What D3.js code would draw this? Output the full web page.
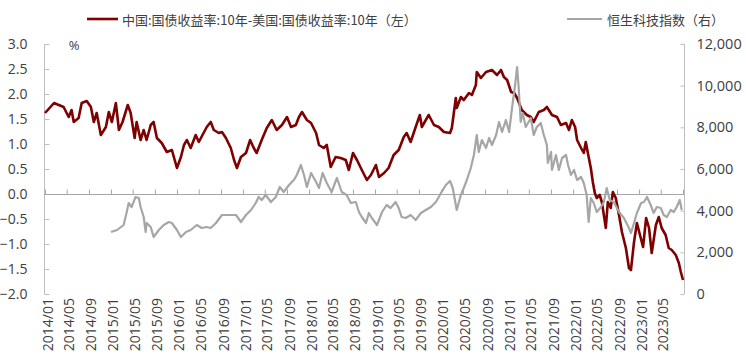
<!DOCTYPE html>
<html><head><meta charset="utf-8">
<script src="https://cdn.jsdelivr.net/npm/d3@7"></script>
<style>body{margin:0;background:#fff}svg{display:block}</style>
</head><body><div id="c"></div>
<script>
const spreadLabel = "中国:国债收益率:10年-美国:国债收益率:10年（左）";
const hstechLabel = "恒生科技指数（右）";
const leftTicks = [-2.0,-1.5,-1.0,-0.5,0.0,0.5,1.0,1.5,2.0,2.5,3.0];
const rightTicks = [0,2000,4000,6000,8000,10000,12000];
const xTickLabels = ["2014/01","2014/05","2014/09","2015/01","2015/05","2015/09","2016/01","2016/05","2016/09","2017/01","2017/05","2017/09","2018/01","2018/05","2018/09","2019/01","2019/05","2019/09","2020/01","2020/05","2020/09","2021/01","2021/05","2021/09","2022/01","2022/05","2022/09","2023/01","2023/05"];

const spreadDates = ["2014-01-01","2014-02-20","2014-04-14","2014-05-12","2014-05-28","2014-06-09","2014-07-06","2014-07-23","2014-08-20","2014-09-12","2014-09-28","2014-10-14","2014-11-06","2014-12-04","2014-12-20","2015-01-06","2015-01-28","2015-02-14","2015-03-06","2015-04-04","2015-04-20","2015-05-12","2015-05-23","2015-06-14","2015-07-01","2015-07-17","2015-08-09","2015-08-25","2015-09-12","2015-10-09","2015-11-06","2015-12-04","2016-01-01","2016-01-23","2016-02-09","2016-02-25","2016-03-17","2016-04-14","2016-05-01","2016-06-14","2016-07-06","2016-07-23","2016-08-20","2016-09-06","2016-09-28","2016-10-25","2016-11-12","2016-11-28","2016-12-20","2017-01-17","2017-02-09","2017-03-01","2017-03-17","2017-04-14","2017-05-12","2017-06-09","2017-07-06","2017-08-04","2017-09-01","2017-09-23","2017-10-20","2017-11-06","2017-11-23","2017-12-20","2018-01-12","2018-02-09","2018-02-25","2018-03-23","2018-04-09","2018-05-01","2018-05-28","2018-06-25","2018-07-23","2018-08-09","2018-09-01","2018-09-23","2018-10-20","2018-11-17","2018-12-09","2019-01-06","2019-01-23","2019-02-20","2019-03-17","2019-04-14","2019-05-12","2019-06-09","2019-06-25","2019-07-17","2019-08-14","2019-09-06","2019-09-17","2019-10-09","2019-10-25","2019-11-23","2019-12-20","2020-01-17","2020-02-20","2020-03-01","2020-03-23","2020-03-28","2020-04-20","2020-05-06","2020-06-04","2020-06-20","2020-07-12","2020-07-17","2020-08-09","2020-09-06","2020-10-09","2020-11-06","2020-11-28","2020-12-14","2021-01-01","2021-01-23","2021-02-09","2021-02-25","2021-03-23","2021-04-20","2021-05-12","2021-05-28","2021-06-25","2021-07-23","2021-08-09","2021-09-06","2021-10-04","2021-10-25","2021-11-23","2021-12-09","2021-12-25","2022-01-12","2022-01-23","2022-02-14","2022-03-01","2022-03-12","2022-03-28","2022-04-09","2022-04-20","2022-05-01","2022-05-12","2022-05-28","2022-06-09","2022-07-01","2022-07-12","2022-07-28","2022-08-09","2022-08-25","2022-09-12","2022-09-28","2022-10-20","2022-11-06","2022-11-17","2022-12-04","2022-12-20","2023-01-06","2023-01-23","2023-02-09","2023-02-25","2023-03-12","2023-04-04","2023-04-20","2023-05-06","2023-05-28","2023-06-14","2023-07-01","2023-07-23","2023-08-09","2023-08-20","2023-09-01"];
const spreadValues = [1.62,1.82,1.74,1.54,1.68,1.44,1.52,1.82,1.86,1.74,1.44,1.62,1.18,1.34,1.64,1.44,1.82,1.28,1.44,1.78,1.62,1.12,1.44,1.08,1.28,1.08,1.38,1.44,1.12,1.02,0.84,0.88,0.52,0.74,0.98,1.08,0.92,1.18,1.04,1.34,1.44,1.28,1.22,1.24,1.12,0.92,0.68,0.52,0.74,0.82,1.08,0.92,0.82,1.08,1.32,1.48,1.28,1.38,1.54,1.34,1.38,1.54,1.64,1.48,1.42,1.22,0.98,0.92,0.98,0.54,0.74,0.72,0.68,0.48,0.82,0.68,0.48,0.28,0.38,0.58,0.34,0.42,0.52,0.78,0.88,1.14,1.22,1.04,1.34,1.58,1.34,1.48,1.58,1.38,1.34,1.24,1.22,1.32,1.92,1.72,1.94,1.88,2.02,1.98,2.18,2.44,2.32,2.44,2.48,2.38,2.48,2.34,2.28,2.04,2.02,1.92,1.68,1.58,1.54,1.44,1.64,1.68,1.74,1.58,1.54,1.38,1.42,1.28,1.48,1.34,1.08,0.92,0.82,1.04,0.74,0.52,0.24,0.02,-0.08,-0.02,-0.16,-0.68,-0.16,-0.28,0.04,-0.08,-0.42,-0.76,-1.08,-1.48,-1.52,-0.96,-0.58,-0.82,-1.06,-0.48,-0.68,-1.18,-0.62,-0.46,-0.68,-0.82,-1.08,-1.12,-1.22,-1.38,-1.56,-1.72];

const hstechDates = ["2015-01-01","2015-02-04","2015-03-12","2015-03-28","2015-04-09","2015-04-25","2015-05-17","2015-06-04","2015-06-14","2015-07-01","2015-07-12","2015-07-17","2015-08-09","2015-08-25","2015-09-23","2015-10-20","2015-11-17","2015-12-04","2016-01-01","2016-01-23","2016-02-20","2016-03-17","2016-04-20","2016-05-17","2016-06-14","2016-07-06","2016-08-04","2016-09-06","2016-10-14","2016-11-23","2016-12-20","2017-01-17","2017-02-14","2017-03-12","2017-03-28","2017-04-14","2017-05-06","2017-06-04","2017-07-01","2017-07-23","2017-08-14","2017-09-12","2017-10-09","2017-10-25","2017-11-17","2017-12-04","2017-12-20","2018-01-12","2018-02-09","2018-02-25","2018-03-17","2018-04-09","2018-05-06","2018-06-04","2018-07-01","2018-07-28","2018-08-20","2018-09-17","2018-10-04","2018-10-20","2018-11-12","2018-11-28","2018-12-14","2019-01-12","2019-02-09","2019-03-06","2019-03-28","2019-04-25","2019-05-12","2019-05-28","2019-06-20","2019-07-17","2019-08-14","2019-09-12","2019-10-09","2019-11-06","2019-12-04","2020-01-01","2020-01-28","2020-02-20","2020-03-06","2020-03-28","2020-04-20","2020-05-06","2020-05-23","2020-06-14","2020-07-01","2020-07-17","2020-07-28","2020-08-14","2020-09-06","2020-09-23","2020-10-09","2020-11-01","2020-11-17","2020-12-04","2020-12-25","2021-01-12","2021-01-28","2021-02-14","2021-02-25","2021-03-06","2021-03-17","2021-03-28","2021-04-14","2021-05-12","2021-05-28","2021-06-14","2021-07-06","2021-07-23","2021-08-09","2021-08-14","2021-09-01","2021-09-06","2021-09-28","2021-10-14","2021-11-01","2021-11-23","2021-12-04","2021-12-20","2022-01-06","2022-01-23","2022-02-14","2022-03-01","2022-03-17","2022-03-28","2022-04-09","2022-04-25","2022-05-12","2022-06-04","2022-06-20","2022-07-06","2022-07-23","2022-08-14","2022-09-12","2022-10-09","2022-11-06","2022-11-17","2022-12-04","2022-12-20","2023-01-12","2023-01-28","2023-02-14","2023-03-06","2023-03-23","2023-04-09","2023-05-01","2023-05-17","2023-06-04","2023-06-25","2023-07-12","2023-07-28","2023-08-14","2023-08-25"];
const hstechValues = [2976,3072,3312,3888,4368,4176,4656,4608,4176,3696,2976,3408,3216,2736,3072,3312,3456,3408,3072,2736,2976,3072,3312,3168,3216,3168,3408,3792,3792,3792,3456,3792,4032,4368,4656,4512,4752,4416,4656,5136,4896,5232,5472,5712,6192,5712,5136,5808,5376,5088,5808,5328,4896,5568,4896,4752,4368,4416,3936,3696,3408,3888,3648,3312,3936,4272,4128,4416,4128,3696,3648,3792,3552,3888,4032,4176,4416,4848,5232,5424,5088,4032,4752,5088,5472,6048,6672,7632,6816,7392,7008,7488,7152,7632,8256,7776,8352,7776,8928,10032,10896,9888,8256,8688,8016,8448,7632,8016,8208,7632,7152,6288,6816,5952,6672,5952,6528,6672,6192,5712,5952,5472,5616,5328,4752,3456,4608,4368,3936,4176,4416,5088,4512,4416,3936,3648,3168,2928,3408,3888,4368,4416,4656,4272,3888,4176,4128,3792,3696,4032,3936,4176,4512,4032];

const W = 746, H = 359;
const parse = d3.timeParse("%Y-%m-%d");
const tickFont = "'Open Sans', 'Noto Sans', sans-serif";
const cjkFont = "'Noto Sans CJK SC', 'Noto Sans', sans-serif";
const textColor = "#404040";
const axisColor = "#bfbfbf";

const svg = d3.select("#c").append("svg").attr("width", W).attr("height", H);

const x = d3.scaleTime().domain([parse("2014-01-01"), parse("2023-09-01")]).range([45, 683]);
const yL = d3.scaleLinear().domain([-2, 3]).range([294, 44]);
const yR = d3.scaleLinear().domain([0, 12000]).range([294, 44]);

// left axis
const gl = svg.append("g").attr("transform", "translate(44.5,0)")
  .call(d3.axisLeft(yL).tickValues(leftTicks).tickSize(-5).tickPadding(17).tickFormat(d3.format(".1f")));
gl.select(".domain").attr("stroke", axisColor).attr("d", "M0,294V44");
gl.selectAll(".tick line").attr("stroke", axisColor);
gl.selectAll(".tick text").attr("fill", textColor).style("font-family", tickFont).style("font-size", "14px");

// right axis
const gr = svg.append("g").attr("transform", "translate(684.5,0)")
  .call(d3.axisRight(yR).tickValues(rightTicks).tickSize(-4).tickPadding(12).tickFormat(d3.format(",")));
gr.select(".domain").attr("stroke", axisColor).attr("d", "M0,294V44");
gr.selectAll(".tick line").attr("stroke", axisColor);
gr.selectAll(".tick text").attr("fill", textColor).style("font-family", tickFont).style("font-size", "14.5px");

// x axis along zero
const tickDates = xTickLabels.map(s => d3.timeParse("%Y/%m")(s));
const allTicks = tickDates.concat([parse("2023-09-01")]);
const gx = svg.append("g").attr("transform", `translate(0,${yL(0)+0.5})`)
  .call(d3.axisBottom(x).tickValues(allTicks).tickSize(-5).tickFormat(""));
gx.select(".domain").attr("stroke", "#a6a6a6").attr("d", "M44,0H684");
gx.selectAll(".tick line").attr("stroke", "#a6a6a6");

// x labels at bottom, rotated
svg.append("g").selectAll("text").data(tickDates).join("text")
  .attr("transform", (d) => `translate(${x(d) + 2},298) rotate(-90)`)
  .attr("text-anchor", "end").attr("dominant-baseline", "central")
  .attr("fill", textColor).style("font-family", tickFont).style("font-size", "14px")
  .text((d, i) => xTickLabels[i]);

// % unit
svg.append("text").attr("x", 74).attr("y", 50).attr("text-anchor", "middle")
  .attr("fill", textColor).style("font-family", tickFont).style("font-size", "13px").text("%");

// lines
const spread = spreadDates.map((d, i) => ({ d: parse(d), v: spreadValues[i] }));
const hstech = hstechDates.map((d, i) => ({ d: parse(d), v: hstechValues[i] }));

svg.append("path").datum(spread)
  .attr("fill", "none").attr("stroke", "#7f0000").attr("stroke-width", 2.6).attr("stroke-linejoin", "round")
  .attr("d", d3.line().x(p => x(p.d)).y(p => yL(p.v)));
svg.append("path").datum(hstech)
  .attr("fill", "none").attr("stroke", "#a6a6a6").attr("stroke-width", 2.2).attr("stroke-linejoin", "round")
  .attr("d", d3.line().x(p => x(p.d)).y(p => yR(p.v)));

// legend
const lg = svg.append("g");
lg.append("line").attr("x1", 87).attr("x2", 118).attr("y1", 19).attr("y2", 19).attr("stroke", "#7f0000").attr("stroke-width", 2.6);
lg.append("text").attr("x", 122).attr("y", 19).attr("dominant-baseline", "central").attr("fill", textColor)
  .style("font-family", cjkFont).style("font-size", "13px").text(spreadLabel);
lg.append("line").attr("x1", 567).attr("x2", 602).attr("y1", 19).attr("y2", 19).attr("stroke", "#a6a6a6").attr("stroke-width", 2.2);
lg.append("text").attr("x", 607).attr("y", 19).attr("dominant-baseline", "central").attr("fill", textColor)
  .style("font-family", cjkFont).style("font-size", "13px").text(hstechLabel);
</script></body></html>
